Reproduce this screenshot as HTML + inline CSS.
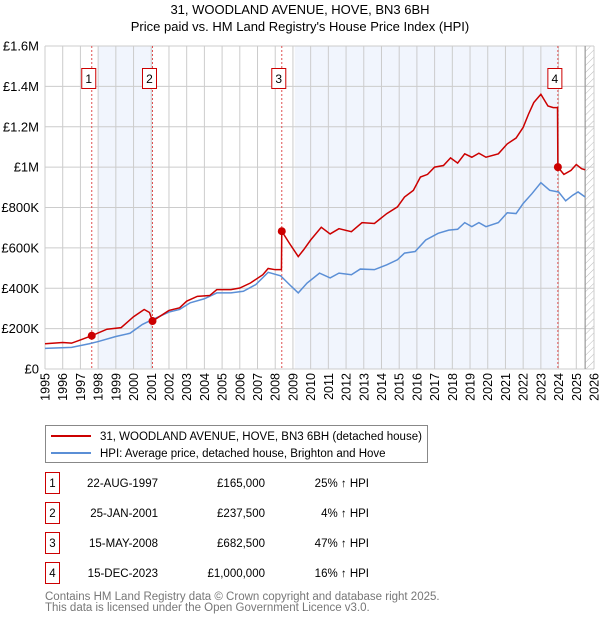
<!DOCTYPE html>
<html><head><meta charset="utf-8"><style>
body{margin:0;background:#fff;font-family:"Liberation Sans","DejaVu Sans",sans-serif;}
svg text{font-family:"Liberation Sans","DejaVu Sans",sans-serif;}
</style></head><body>
<svg id="c" width="600" height="620" xmlns="http://www.w3.org/2000/svg">
<defs><pattern id="hatch" width="5" height="5" patternUnits="userSpaceOnUse" patternTransform="rotate(45)"><line x1="0" y1="0" x2="0" y2="5" stroke="#bbb" stroke-width="1"/></pattern></defs>
<text x="300" y="14" text-anchor="middle" font-size="13">31, WOODLAND AVENUE, HOVE, BN3 6BH</text>
<text x="300" y="31" text-anchor="middle" font-size="13">Price paid vs. HM Land Registry's House Price Index (HPI)</text>
<g id="plot"></g>
<g>
<rect x="45.5" y="425.5" width="382" height="37" fill="#fff" stroke="#888"/>
<line x1="51" y1="436" x2="91" y2="436" stroke="#cc0000" stroke-width="2"/>
<text x="100" y="440" font-size="11.5">31, WOODLAND AVENUE, HOVE, BN3 6BH (detached house)</text>
<line x1="51" y1="453" x2="91" y2="453" stroke="#5b8fd6" stroke-width="2"/>
<text x="100" y="457" font-size="11.5">HPI: Average price, detached house, Brighton and Hove</text>
</g>
<g id="table" font-size="11.5"></g>
<text x="45" y="600" font-size="11.5" fill="#777">Contains HM Land Registry data © Crown copyright and database right 2025.</text>
<text x="45" y="611" font-size="11.5" fill="#777">This data is licensed under the Open Government Licence v3.0.</text>
</svg>
<script>
const yearTicks=[1995,1996,1997,1998,1999,2000,2001,2002,2003,2004,2005,2006,2007,2008,2009,2010,2011,2012,2013,2014,2015,2016,2017,2018,2019,2020,2021,2022,2023,2024,2025,2026];
const priceTicks=[0,200,400,600,800,1000,1200,1400,1600];
const priceTickLabels=["£0","£200K","£400K","£600K","£800K","£1M","£1.2M","£1.4M","£1.6M"];
const redYears=[1995,1996,1996.5,1997,1997.64,1998.5,1999.3,2000,2000.6,2000.9,2001.07,2002,2002.6,2003,2003.6,2004.3,2004.7,2005.5,2006,2006.6,2007.3,2007.6,2008,2008.35,2008.37,2008.8,2009.3,2009.6,2010,2010.6,2011.1,2011.6,2012.3,2012.9,2013.6,2014.3,2014.9,2015.3,2015.8,2016.2,2016.6,2017,2017.5,2017.9,2018.3,2018.7,2019.1,2019.5,2019.9,2020.6,2021.1,2021.6,2022,2022.3,2022.6,2023,2023.4,2023.7,2023.94,2023.96,2024.3,2024.7,2025,2025.3,2025.5];
const redValues=[125,131,128,144,165,197,205,259,295,280,237.5,290,303,336,360,364,393,393,401,426,467,498,492,492,682.5,623,557,590,639,702,669,695,680,725,721,770,803,852,885,951,964,1000,1008,1046,1020,1066,1049,1069,1049,1066,1115,1144,1197,1262,1320,1361,1303,1295,1295,1000,964,984,1013,992,987];
const hpiYears=[1995,1996.5,1997.5,1998,1999,1999.8,2000.5,2001.1,2002,2002.6,2003.2,2004,2004.7,2005.5,2006.2,2006.9,2007.6,2008.3,2008.9,2009.3,2009.8,2010.5,2011.1,2011.6,2012.3,2012.8,2013.6,2014.3,2014.9,2015.3,2015.9,2016.5,2017.2,2017.8,2018.3,2018.7,2019.1,2019.5,2019.9,2020.6,2021.1,2021.6,2022,2022.5,2023,2023.5,2024,2024.4,2024.8,2025.1,2025.5];
const hpiValues=[102,107,125,136,161,177,221,246,282,295,328,348,377,377,385,418,479,462,410,377,426,475,451,475,467,495,492,516,541,574,582,639,672,688,692,725,705,725,705,725,774,770,820,869,923,885,877,833,861,877,852];
const saleLabels=["1","2","3","4"];
const saleYears=[1997.64,2001.07,2008.37,2023.96];
const saleValues=[165,237.5,682.5,1000];
const saleDates=["22-AUG-1997","25-JAN-2001","15-MAY-2008","15-DEC-2023"];
const salePrices=["£165,000","£237,500","£682,500","£1,000,000"];
const saleHpi=["25% ↑ HPI","4% ↑ HPI","47% ↑ HPI","16% ↑ HPI"];
const shadeBands=[[1998.0,2001.07],[2009.1,2023.96]];
const x0=45,x1=594,y0=369,y1=46;
const X=v=>x0+(v-1995)/(2026-1995)*(x1-x0);
const Y=v=>y0-v/1600*(y0-y1);
const NS="http://www.w3.org/2000/svg";
const plot=document.getElementById('plot');
function mk(tag,attrs,parent){const e=document.createElementNS(NS,tag);for(const k in attrs)e.setAttribute(k,attrs[k]);(parent||plot).appendChild(e);return e;}
shadeBands.forEach(b=>{const r=mk('rect',{x:X(b[0]),y:y1,width:X(b[1])-X(b[0]),height:y0-y1,fill:'#eef3fc',opacity:0.8});

});
const hx=X(2025.5);
const hr=mk('rect',{x:hx,y:y1,width:x1-hx,height:y0-y1,fill:'url(#hatch)'});


yearTicks.forEach(t=>{mk('line',{x1:X(t),x2:X(t),y1:y1,y2:y0,stroke:'#ccc','stroke-width':1});
const tx=mk('text',{x:0,y:0,'font-size':12.5,'text-anchor':'end',transform:`translate(${X(t)+4.5},${y0+4}) rotate(-90)`});tx.textContent=t;

});
priceTicks.forEach((t,i)=>{mk('line',{x1:x0,x2:x1,y1:Y(t),y2:Y(t),stroke:'#ccc','stroke-width':1});
const tx=mk('text',{x:39,y:Y(t)+4.5,'font-size':13,'text-anchor':'end'});tx.textContent=priceTickLabels[i];

});
mk('line',{x1:hx,x2:hx,y1:y1,y2:y0,stroke:'#999','stroke-width':1.2});
saleYears.forEach((s,i)=>{const l=mk('line',{x1:X(s),x2:X(s),y1:y1,y2:y0,stroke:'#e05050','stroke-width':1,'stroke-dasharray':'2,2'});


const bx=X(s)-10;
const r=mk('rect',{x:bx,y:68.5,width:14,height:20,fill:'#fff',stroke:'#cc0000'});


const t=mk('text',{x:bx+7,y:83,'font-size':12,'text-anchor':'middle'});t.textContent=saleLabels[i];

});
const hp=mk('polyline',{points:hpiYears.map((y,i)=>X(y)+','+Y(hpiValues[i])).join(' '),fill:'none',stroke:'#5b8fd6','stroke-width':1.5});


const rp=mk('polyline',{points:redYears.map((y,i)=>X(y)+','+Y(redValues[i])).join(' '),fill:'none',stroke:'#cc0000','stroke-width':1.5});


saleYears.forEach((s,i)=>{const c=mk('circle',{cx:X(s),cy:Y(saleValues[i]),r:4,fill:'#cc0000'});

});
const tb=document.getElementById('table');
const rowY=[483,513,543,573];
saleLabels.forEach((l,i)=>{const y=rowY[i];
const r=mk('rect',{x:45.5,y:y-10.5,width:14,height:21,fill:'#fff',stroke:'#cc0000'},tb);


const a=mk('text',{x:52.5,y:y+4,'text-anchor':'middle'},tb);a.textContent=l;


const d=mk('text',{x:158,y:y+4,'text-anchor':'end'},tb);d.textContent=saleDates[i];


const p=mk('text',{x:265,y:y+4,'text-anchor':'end'},tb);p.textContent=salePrices[i];


const h=mk('text',{x:369,y:y+4,'text-anchor':'end'},tb);h.textContent=saleHpi[i];

});
</script>
</body></html>
